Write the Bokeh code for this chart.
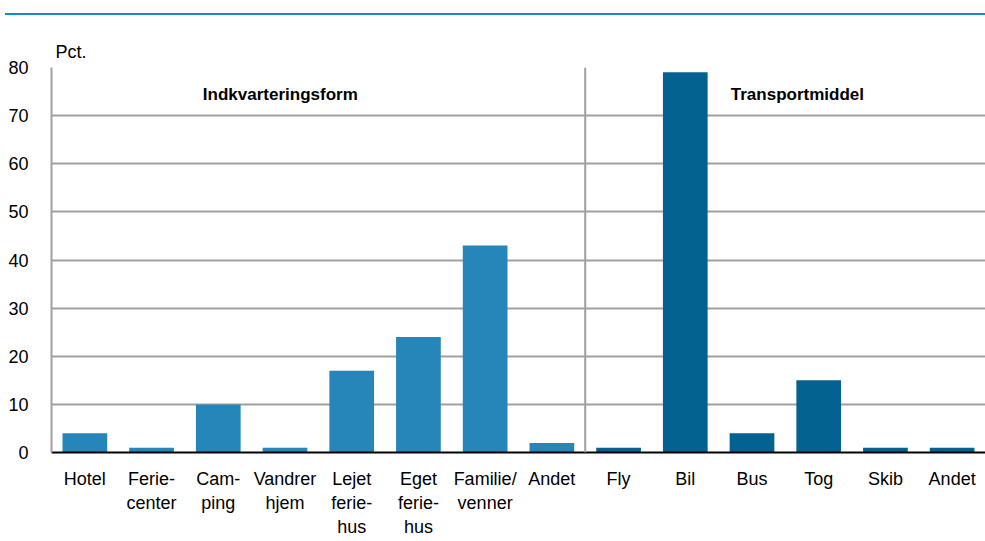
from bokeh.plotting import figure
from bokeh.models import ColumnDataSource, FixedTicker, Span, Label, Div, Range1d
from bokeh.layouts import column
from bokeh.embed import file_html
from bokeh.resources import INLINE

categories = ["Hotel", "Ferie-\ncenter", "Cam-\nping", "Vandrer\nhjem", "Lejet\nferie-\nhus",
              "Eget\nferie-\nhus", "Familie/\nvenner", "Andet",
              "Fly", "Bil", "Bus", "Tog", "Skib", "Andet"]
values = [4, 1, 10, 1, 17, 24, 43, 2, 1, 79, 4, 15, 1, 1]
groups = ["Indkvarteringsform"] * 8 + ["Transportmiddel"] * 6
group_titles = ["Indkvarteringsform", "Transportmiddel"]
y_ticks = [0, 10, 20, 30, 40, 50, 60, 70, 80]

LIGHT = "#2685B9"
DARK = "#03628F"
FONT = "Liberation Sans"

xs = list(range(len(categories)))
colors = [LIGHT if g == group_titles[0] else DARK for g in groups]
src = ColumnDataSource(dict(x=xs, top=values, color=colors))

p = figure(width=985, height=526, output_backend="svg", toolbar_location=None,
           x_range=Range1d(-0.5, len(categories) - 0.5), y_range=Range1d(0, 80),
           min_border_left=51, min_border_right=0, min_border_top=52, min_border_bottom=89,
           outline_line_color=None, title="Pct.")

p.title.text_font = FONT
p.title.text_font_size = "18px"
p.title.text_font_style = "normal"
p.title.text_color = "#000000"
p.title.align = "left"
p.title.offset = 4
p.title.standoff = 12

p.vbar(x="x", top="top", width=0.67, color="color", line_color=None, source=src)

p.xgrid.visible = False
p.ygrid.ticker = FixedTicker(ticks=y_ticks)
p.ygrid.grid_line_color = "#a0a0a0"
p.ygrid.grid_line_width = 2

p.yaxis.ticker = FixedTicker(ticks=y_ticks)
p.yaxis.axis_line_color = "#a0a0a0"
p.yaxis.axis_line_width = 2
p.yaxis.major_tick_line_color = None
p.yaxis.minor_tick_line_color = None
p.yaxis.major_label_text_font = FONT
p.yaxis.major_label_text_font_size = "18px"
p.yaxis.major_label_text_color = "#000000"
p.yaxis.major_label_standoff = 17

p.xaxis.ticker = FixedTicker(ticks=xs)
p.xaxis.major_label_overrides = {i: c for i, c in zip(xs, categories)}
p.xaxis.axis_line_color = "#000000"
p.xaxis.axis_line_width = 2
p.xaxis.major_tick_line_color = None
p.xaxis.minor_tick_line_color = None
p.xaxis.major_label_text_font = FONT
p.xaxis.major_label_text_font_size = "18px"
p.xaxis.major_label_text_color = "#000000"
p.xaxis.major_label_standoff = 10
p.xaxis.major_label_text_line_height = 1.22

sep = Span(location=7.5, dimension="height", line_color="#a0a0a0", line_width=2)
p.add_layout(sep)

group_x = [2.93, 10.68]
for t, gx in zip(group_titles, group_x):
    p.add_layout(Label(x=gx, y=74.4, text=t, text_font=FONT, text_font_size="17px",
                       text_font_style="bold", text_align="center", text_baseline="middle",
                       text_color="#000000"))

top_line = Div(text="", width=980, height=2, margin=(13, 0, 0, 5),
               styles={"background-color": "#148CCC"})

layout = column(top_line, p, spacing=0)
open("out.html", "w").write(file_html(layout, INLINE))
